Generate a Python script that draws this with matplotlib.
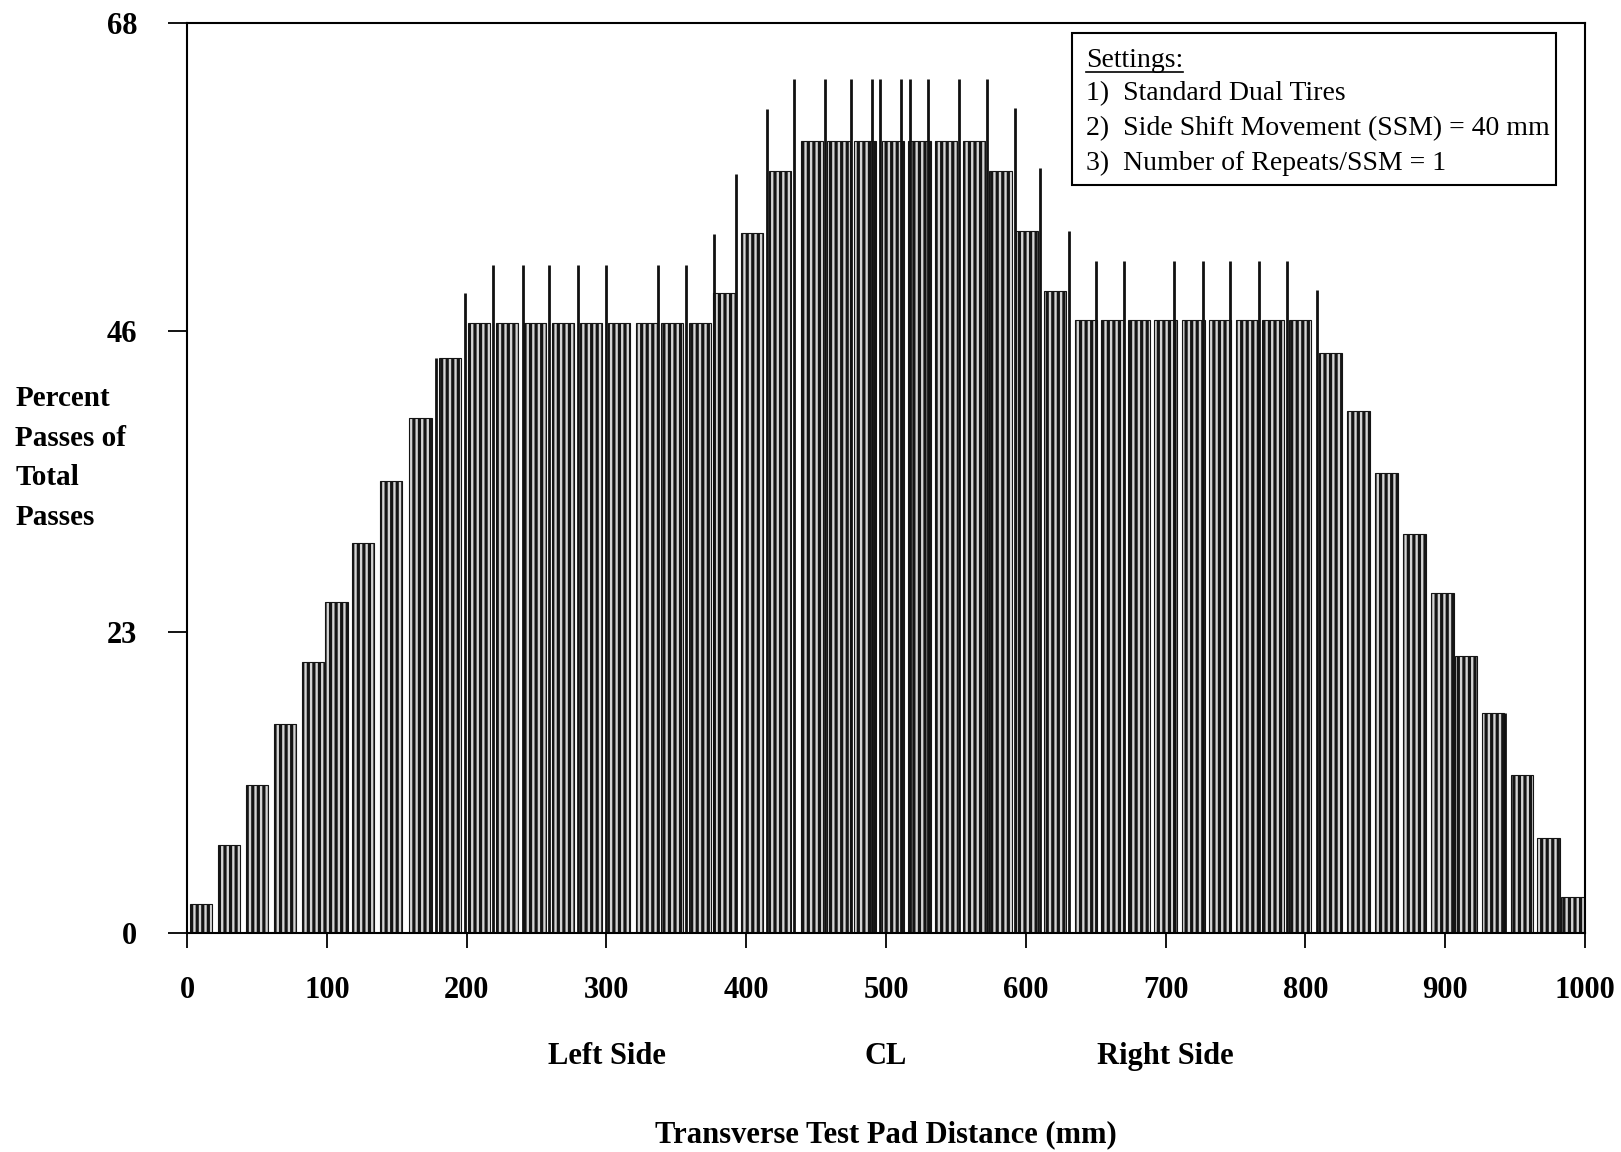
import matplotlib
matplotlib.use('Agg')
import matplotlib.pyplot as plt
from matplotlib.lines import Line2D
from matplotlib.patches import Rectangle

plt.rcParams['font.family'] = ['Liberation Serif', 'DejaVu Serif']
plt.rcParams['hatch.linewidth'] = 2.3

# ---- data (x in mm, y in percent of total passes) ----
step_x = [10, 30, 50, 70, 90, 107, 126, 146, 167, 188,
          209, 229, 249, 269, 289, 309, 329, 347, 367,
          384, 404, 424,
          447, 466, 485, 505, 524, 543, 563,
          582, 601, 621,
          643, 662, 681, 700, 720, 739, 758, 777, 796,
          818, 838, 858, 878, 898, 915, 934, 955, 974, 991]
step_h = [2.2, 6.7, 11.3, 16.0, 20.7, 25.3, 29.8, 34.5, 39.3, 43.9,
          46.6, 46.6, 46.6, 46.6, 46.6, 46.6, 46.6, 46.6, 46.6,
          48.9, 53.5, 58.2,
          60.5, 60.5, 60.5, 60.5, 60.5, 60.5, 60.5,
          58.2, 53.6, 49.0,
          46.8, 46.8, 46.8, 46.8, 46.8, 46.8, 46.8, 46.8, 46.8,
          44.3, 39.9, 35.1, 30.5, 26.0, 21.2, 16.8, 12.1, 7.3, 2.75]

spike_x = [178, 199, 219, 240, 259, 280, 300, 337, 357, 377,
           393, 415, 434, 456, 475, 490, 496, 511, 517, 530, 552, 572,
           592, 610, 631, 650, 670, 706, 727, 746, 767, 787, 808, 943]
spike_h = [43.9, 48.9, 51.0, 51.0, 51.0, 51.0, 51.0, 51.0, 51.0, 53.4,
           58.0, 62.9, 65.2, 65.2, 65.2, 65.2, 65.2, 65.2, 65.2, 65.2, 65.2, 65.2,
           63.0, 58.4, 53.6, 51.3, 51.3, 51.3, 51.3, 51.3, 51.3, 51.3, 49.1, 16.8]

y_ticks = [0, 23, 46, 69.5]
y_tick_labels = ['0', '23', '46', '68']
x_ticks = [0, 100, 200, 300, 400, 500, 600, 700, 800, 900, 1000]
x_long_ticks = [300, 500, 700]
side_labels = ['Left Side', 'CL', 'Right Side']
side_label_x = [300, 500, 700]
settings_lines = ['Settings:',
                  '1)  Standard Dual Tires',
                  '2)  Side Shift Movement (SSM) = 40 mm',
                  '3)  Number of Repeats/SSM = 1']

W, H = 1621, 1152
fig = plt.figure(figsize=(W / 100, H / 100), dpi=100)
ax = fig.add_axes([0.1154, 0.190, 0.8624, 0.790])

ax.bar(step_x, step_h, width=16, color='#d4d4d4', edgecolor='#151515',
       hatch='|||', linewidth=0.8)
ax.vlines(spike_x, 0, spike_h, colors='#111111', linewidth=2.0)

ax.set_xlim(0, 1000)
ax.set_ylim(0, 69.5)
for s in ax.spines.values():
    s.set_linewidth(1.5)
    s.set_color('black')

ax.set_xticks(x_ticks)
ax.set_xticklabels([str(v) for v in x_ticks])
ax.set_xticks(x_long_ticks, minor=True)
ax.set_yticks(y_ticks)
ax.set_yticklabels(y_tick_labels)
ax.tick_params(axis='x', which='major', direction='out', length=11, width=1.3,
               pad=20, labelsize=22)
ax.tick_params(axis='x', which='minor', direction='out', length=24, width=1.3)
ax.tick_params(axis='y', direction='out', length=14, width=1.3, pad=22,
               labelsize=22)
for lbl in ax.get_xticklabels() + ax.get_yticklabels():
    lbl.set_fontweight('bold')

# y-axis label block
fig.text(0.0093, 0.6024, 'Percent\nPasses of\nTotal\nPasses', ha='left',
         va='center', fontsize=21, fontweight='bold', linespacing=1.6)

# side labels under the axis
for lab, xv in zip(side_labels, side_label_x):
    ax.text(xv, -0.136, lab, transform=ax.get_xaxis_transform(), ha='center',
            va='center', fontsize=22, fontweight='bold')
ax.text(500, -0.221, 'Transverse Test Pad Distance (mm)',
        transform=ax.get_xaxis_transform(), ha='center', va='center',
        fontsize=22, fontweight='bold')

# settings box
ax.add_patch(Rectangle((0.633, 0.822), 0.346, 0.167, transform=ax.transAxes,
                       facecolor='white', edgecolor='black', linewidth=1.5,
                       zorder=5))
line_y = [0.959, 0.922, 0.884, 0.846]
texts = []
for t, yv in zip(settings_lines, line_y):
    texts.append(ax.text(0.643, yv, t, transform=ax.transAxes, ha='left',
                         va='center', fontsize=20, zorder=6))

fig.canvas.draw()
r = fig.canvas.get_renderer()
bb = texts[0].get_window_extent(renderer=r)
yy = (bb.y0 + 1) / (H)
fig.add_artist(Line2D([bb.x0 / W, bb.x1 / W], [yy, yy], transform=fig.transFigure,
                      color='black', linewidth=1.2, zorder=7))

fig.savefig('out.png', dpi=100, facecolor='white')
